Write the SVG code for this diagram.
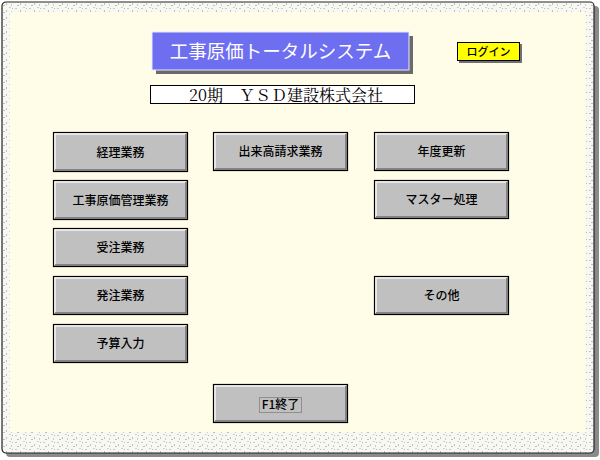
<svg xmlns="http://www.w3.org/2000/svg" width="600" height="460" viewBox="0 0 600 460">
<defs>
<style>
.btn rect.face{fill:#c0c0c0;stroke:#000;stroke-width:1.2}
.btn .hi{stroke:#f4f4f4;stroke-width:1.5;fill:none}
.btn .lo{stroke:#707070;stroke-width:1.5;fill:none}
.btn text{font-family:"Noto Sans CJK JP","Noto Sans",sans-serif;font-size:12px;fill:#000;text-anchor:middle;font-weight:500}
</style>
<pattern id="nz" width="14" height="7" patternUnits="userSpaceOnUse">
<rect width="14" height="7" fill="#f8f8f2"/>
<rect x="1" y="1" width="2" height="1" fill="#c8c8c8"/>
<rect x="6" y="3" width="1" height="2" fill="#c0c0c0"/>
<rect x="9" y="0" width="2" height="1" fill="#d0d0d0"/>
<rect x="3" y="5" width="2" height="1" fill="#bcbcbc"/>
<rect x="11" y="4" width="1" height="2" fill="#cacaca"/>
<rect x="12" y="1" width="1" height="1" fill="#b8b8b8"/>
</pattern>
</defs>
<rect width="600" height="460" fill="#ffffff"/>
<rect x="6" y="6" width="593" height="451" rx="4" fill="#8a8a8a"/>
<rect x="2" y="2" width="592" height="451" rx="4" fill="url(#nz)" stroke="#222" stroke-width="1.2"/>
<rect x="10" y="12" width="576" height="420" fill="#fffde8"/>
<g id="title">
<rect x="156" y="36" width="257" height="38" fill="#6a6a6a"/>
<rect x="152" y="32" width="257" height="38" fill="#6e6ef0" stroke="#e8e8ff" stroke-width="1"/>
<text x="280.5" y="57.5" font-family="'Noto Sans CJK JP','Noto Sans',sans-serif" font-size="18.5" fill="#fff" text-anchor="middle">工事原価トータルシステム</text>
</g>
<g id="subtitle">
<rect x="150.5" y="85.5" width="264" height="18" fill="#fff" stroke="#000" stroke-width="1"/>
<text x="286" y="100.5" font-family="'Noto Serif CJK JP','Noto Sans CJK JP',serif" font-size="16" fill="#000" text-anchor="middle">20期　ＹＳＤ建設株式会社</text>
</g>
<g id="login">
<rect x="459" y="44" width="63" height="19" fill="#707070"/>
<rect x="457.5" y="42.5" width="62" height="18" fill="#ffff00" stroke="#000" stroke-width="1"/>
<text x="488.5" y="56" font-family="'Noto Sans CJK JP',sans-serif" font-size="11" font-weight="500" fill="#000" text-anchor="middle">ログイン</text>
</g>
<g id="btn-keiri" class="btn"><rect class="face" x="53.5" y="132.5" width="134" height="39"/><path class="hi" d="M55 170V134H186"/><path class="lo" d="M55 170H186V134"/><text x="120.5" y="156.5">経理業務</text></g>
<g id="btn-genka" class="btn"><rect class="face" x="53.5" y="180.5" width="134" height="39"/><path class="hi" d="M55 218V182H186"/><path class="lo" d="M55 218H186V182"/><text x="120.5" y="204.5">工事原価管理業務</text></g>
<g id="btn-juchu" class="btn"><rect class="face" x="53.5" y="228.5" width="134" height="38"/><path class="hi" d="M55 265V230H186"/><path class="lo" d="M55 265H186V230"/><text x="120.5" y="252">受注業務</text></g>
<g id="btn-hachu" class="btn"><rect class="face" x="53.5" y="276.5" width="134" height="38"/><path class="hi" d="M55 313V278H186"/><path class="lo" d="M55 313H186V278"/><text x="120.5" y="300">発注業務</text></g>
<g id="btn-yosan" class="btn"><rect class="face" x="53.5" y="324.5" width="134" height="38"/><path class="hi" d="M55 361V326H186"/><path class="lo" d="M55 361H186V326"/><text x="120.5" y="348">予算入力</text></g>
<g id="btn-dekidaka" class="btn"><rect class="face" x="213.5" y="132.5" width="134" height="38"/><path class="hi" d="M215 169V134H346"/><path class="lo" d="M215 169H346V134"/><text x="280.5" y="156">出来高請求業務</text></g>
<g id="btn-nendo" class="btn"><rect class="face" x="374.5" y="132.5" width="134" height="38"/><path class="hi" d="M376 169V134H507"/><path class="lo" d="M376 169H507V134"/><text x="441.5" y="156">年度更新</text></g>
<g id="btn-master" class="btn"><rect class="face" x="374.5" y="180.5" width="134" height="38"/><path class="hi" d="M376 217V182H507"/><path class="lo" d="M376 217H507V182"/><text x="441.5" y="204">マスター処理</text></g>
<g id="btn-sonota" class="btn"><rect class="face" x="374.5" y="276.5" width="134" height="38"/><path class="hi" d="M376 313V278H507"/><path class="lo" d="M376 313H507V278"/><text x="441.5" y="300">その他</text></g>
<g id="btn-end" class="btn"><rect class="face" x="213.5" y="384.5" width="134" height="38"/><path class="hi" d="M215 421V386H346"/><path class="lo" d="M215 421H346V386"/><rect x="259.5" y="397.5" width="42" height="15" fill="none" stroke="#444" stroke-width="0.8" stroke-dasharray="1,1"/><text x="280.5" y="409" font-weight="bold">F1終了</text></g>
<g id="connectors"></g>
</svg>
